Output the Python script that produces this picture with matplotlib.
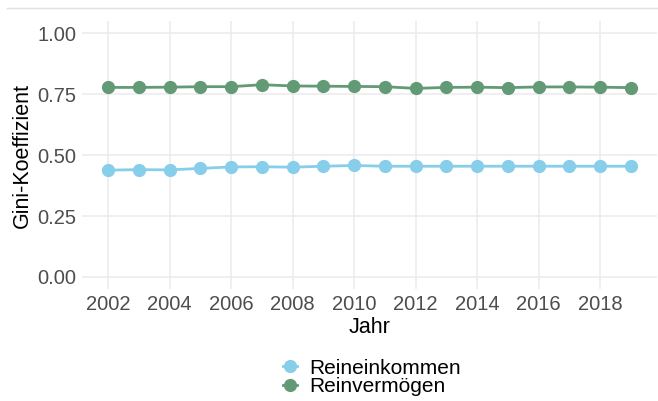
import matplotlib.pyplot as plt
from matplotlib.lines import Line2D

plt.rcParams['font.family'] = ['Liberation Sans', 'DejaVu Sans']

years = list(range(2002, 2020))
einkommen = [0.438, 0.440, 0.439, 0.445, 0.451, 0.452, 0.450, 0.454, 0.457, 0.454,
             0.454, 0.454, 0.454, 0.454, 0.454, 0.454, 0.454, 0.454]
vermoegen = [0.777, 0.777, 0.778, 0.780, 0.780, 0.788, 0.783, 0.782, 0.781, 0.780,
             0.773, 0.777, 0.778, 0.776, 0.779, 0.779, 0.778, 0.776]
series_names = ['Reineinkommen', 'Reinvermögen']
colors = ['#87CEEB', '#639A76']

fig = plt.figure(figsize=(6.58, 4.01), dpi=100)
ax = fig.add_axes([81.9 / 658, 1 - 289.2 / 401, 575 / 658, 268.4 / 401])

for vals, name, c in zip([einkommen, vermoegen], series_names, colors):
    ax.plot(years, vals, color=c, lw=2, marker='o', ms=8.5, label=name, zorder=3)

ax.set_xlim(2001.15, 2019.85)
ax.set_ylim(-0.05, 1.05)
ax.set_xticks(range(2002, 2020, 2))
ax.set_yticks([0, 0.25, 0.5, 0.75, 1.0])
ax.set_yticklabels(['0.00', '0.25', '0.50', '0.75', '1.00'])
ax.grid(True, color='#ebebeb', lw=1.1)
ax.set_axisbelow(True)
for s in ax.spines.values():
    s.set_visible(False)
ax.tick_params(length=0, labelsize=14.5, labelcolor='#4d4d4d', pad=4)
ax.set_xlabel('Jahr', fontsize=15.5, labelpad=2)
ax.set_ylabel('Gini-Koeffizient', fontsize=15.5, labelpad=3)

fig.legend(loc='center', bbox_to_anchor=(372 / 658, 1 - 377.5 / 401), frameon=False,
           fontsize=15, handlelength=0.7, handletextpad=0.6, labelspacing=0.0,
           borderpad=0)

# thin rule along the top
fig.add_artist(Line2D([7 / 658, 1], [1 - 8 / 401, 1 - 8 / 401], color='#e0e0e0', lw=1))

fig.savefig('out.png', dpi=100)
